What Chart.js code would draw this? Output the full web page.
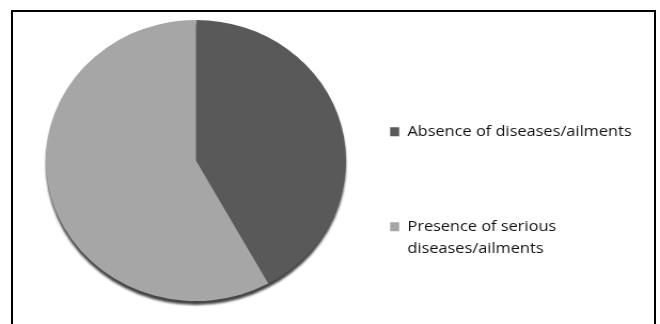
<!DOCTYPE html>
<html>
<head>
<meta charset="utf-8">
<script src="https://cdn.jsdelivr.net/npm/chart.js@4.4.1/dist/chart.umd.min.js"></script>
<style>
  html, body { margin: 0; padding: 0; background: #fff; overflow: hidden; width: 660px; height: 324px; }
  #pie { position: absolute; left: 0; top: 0; }
  #frame { position: absolute; left: 11px; top: 10px; width: 645px; height: 400px;
           box-sizing: border-box; border: 2px solid #000; border-bottom: none; }
</style>
</head>
<body>
<!-- drawn at 618 px wide and stretched to 660 px, which gives the pie its oval shape -->
<canvas id="pie" width="618" height="324" style="width:660px;height:324px;"></canvas>
<div id="frame"></div>
<script>
const categories = ['Absence of diseases/ailments', ['Presence of serious', 'diseases/ailments']];
const shares = [42, 58];
const sliceColors = ['#595959', '#a6a6a6'];

// dark rim under the pie, slightly below it
const rimShadow = {
  id: 'rimShadow',
  beforeDatasetsDraw(chart) {
    const arc = chart.getDatasetMeta(0).data[0];
    if (!arc) return;
    const { x, y, outerRadius } = arc.getProps(['x', 'y', 'outerRadius'], true);
    const ctx = chart.ctx;
    ctx.save();
    ctx.filter = 'blur(1px)';
    ctx.fillStyle = '#454545';
    ctx.beginPath();
    ctx.arc(x, y + 4, outerRadius, 0, Math.PI * 2);
    ctx.fill();
    ctx.restore();
  }
};

new Chart(document.getElementById('pie'), {
  type: 'pie',
  data: {
    labels: categories,
    datasets: [{
      data: shares,
      backgroundColor: sliceColors,
      borderWidth: 0,
      radius: 140.5
    }]
  },
  options: {
    responsive: false,
    animation: false,
    layout: { padding: { left: 81.4, right: 17.4, top: 0, bottom: 3 } },
    plugins: {
      tooltip: { enabled: false },
      legend: {
        position: 'right',
        align: 'start',
        maxWidth: 315,
        title: { display: true, text: '', padding: { top: 34.5, bottom: 0 }, font: { size: 10, lineHeight: 1 } },
        labels: {
          boxWidth: 8.5,
          boxHeight: 9,
          padding: 79.7,
          color: '#111111',
          font: { family: 'Open Sans', size: 15.3, lineHeight: 1.41 }
        }
      }
    }
  },
  plugins: [rimShadow]
});
</script>
</body>
</html>
